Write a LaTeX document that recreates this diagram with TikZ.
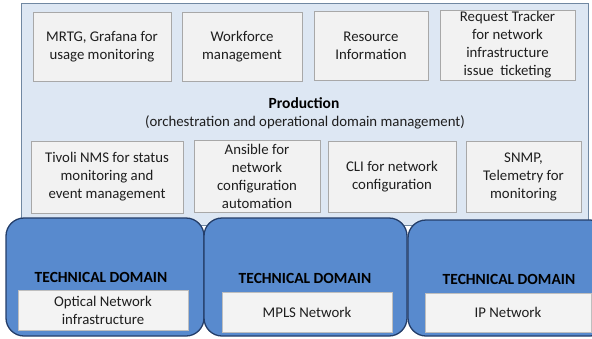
\documentclass[tikz,border=0pt]{standalone}
\usepackage{fontspec}
\setmainfont{Carlito}
\usetikzlibrary{positioning}
\definecolor{prodfill}{RGB}{221,231,243}
\definecolor{prodline}{RGB}{112,136,162}
\definecolor{toolfill}{RGB}{242,242,242}
\definecolor{toolline}{RGB}{168,168,168}
\definecolor{domfill}{RGB}{88,138,206}
\definecolor{domline}{RGB}{36,62,106}
\definecolor{netfill}{RGB}{243,243,243}
\definecolor{netline}{RGB}{190,190,190}
\definecolor{textgray}{RGB}{30,30,30}
\tikzset{
  % Base styles
  diagram base/.style={
    x=1pt, y=-1pt,
    every node/.style={font=\fontsize{14.8}{18}\selectfont, text=textgray},
  },
  % Production layer
  prod box/.style={rectangle, draw=prodline, fill=prodfill, line width=1pt, inner sep=0pt},
  tool box/.style={rectangle, draw=toolline, fill=toolfill, line width=0.9pt, align=center, inner sep=0pt},
  prod title/.style={font=\fontsize{15.5}{18}\selectfont\bfseries, text=black},
  % Technical domains
  domain box/.style={rectangle, draw=domline, fill=domfill, line width=1.3pt, rounded corners=18pt, inner sep=0pt},
  domain label/.style={font=\fontsize{15.5}{18}\selectfont\bfseries, text=black},
  net box/.style={rectangle, draw=netline, fill=netfill, line width=0.8pt, align=center, inner sep=0pt},
}

\begin{document}
\begin{tikzpicture}[diagram base]
  \useasboundingbox (0,0) rectangle (592,338);
  \clip (0,0) rectangle (592,338);
  % production layer
  \node[prod box, minimum width=567pt, minimum height=222pt] (prod) at (304.5,114) {};
  \node[tool box, minimum width=138pt, minimum height=69pt] (mrtg) at (102,46.5) {MRTG, Grafana for\\usage monitoring};
  \node[tool box, minimum width=120pt, minimum height=69pt] (workforce) at (242,46.5) {Workforce\\management};
  \node[tool box, minimum width=114pt, minimum height=69pt] (resource) at (371,45.5) {Resource\\Information};
  \node[tool box, minimum width=135pt, minimum height=70pt] (tracker) at (507.5,45) {Request Tracker\\for network\\infrastructure\\issue\ \ ticketing};
  \node[prod title] (prodtitle) at (304,103) {Production};
  \node (prodsub) at (305,122) {(orchestration and operational domain management)};
  \node[tool box, minimum width=152pt, minimum height=72pt] (tivoli) at (107,177) {Tivoli NMS for status\\monitoring and\\event management};
  \node[tool box, minimum width=126pt, minimum height=72pt] (ansible) at (257,176.5) {Ansible for\\network\\configuration\\automation};
  \node[tool box, minimum width=128pt, minimum height=71pt] (cli) at (392,176.5) {CLI for network\\configuration};
  \node[tool box, minimum width=115pt, minimum height=71pt] (snmp) at (523.5,176.5) {SNMP,\\Telemetry for\\monitoring};
  % technical domains
  \node[domain box, minimum width=198pt, minimum height=118pt] (optdom) at (105,277) {};
  \node[domain box, minimum width=203pt, minimum height=118pt] (mplsdom) at (305.5,277) {};
  \node[domain box, minimum width=200pt, minimum height=116pt] (ipdom) at (508,278) {};
  \node[net box, minimum width=170pt, minimum height=40pt] (optnet) at (103,310) {Optical Network\\infrastructure};
  \node[net box, minimum width=170pt, minimum height=40pt] (mplsnet) at (307,312) {MPLS Network};
  \node[net box, minimum width=166pt, minimum height=39pt] (ipnet) at (508,312.5) {IP Network};
  \node[domain label] (optlabel) at (101,277) {TECHNICAL DOMAIN};
  \node[domain label] (mplslabel) at (305,278) {TECHNICAL DOMAIN};
  \node[domain label] (iplabel) at (509,279) {TECHNICAL DOMAIN};
\end{tikzpicture}
\end{document}
